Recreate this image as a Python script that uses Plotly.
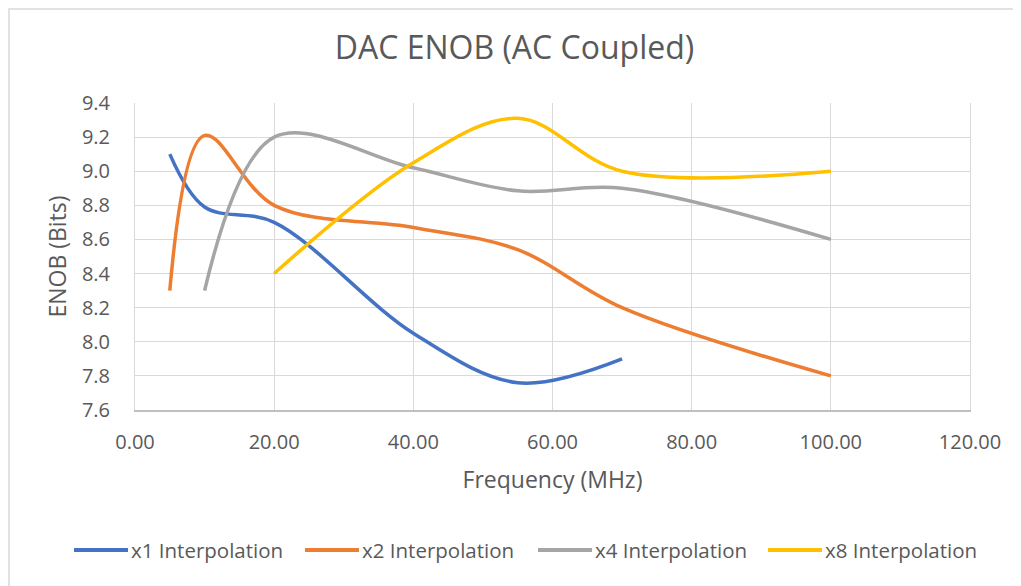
import plotly.graph_objects as go

# Data (frequency in MHz, ENOB in bits)
freq_x1 = [5, 10, 20, 40, 55, 70]
enob_x1 = [9.10, 8.79, 8.70, 8.05, 7.76, 7.90]

freq_x2 = [5, 10, 20, 40, 55, 70, 100]
enob_x2 = [8.30, 9.21, 8.80, 8.67, 8.54, 8.20, 7.80]

freq_x4 = [10, 20, 40, 55, 70, 100]
enob_x4 = [8.30, 9.20, 9.02, 8.885, 8.90, 8.60]

freq_x8 = [20, 40, 55, 70, 100]
enob_x8 = [8.40, 9.05, 9.31, 9.00, 9.00]

series_names = ["x1 Interpolation", "x2 Interpolation", "x4 Interpolation", "x8 Interpolation"]
series_colors = ["#4472C4", "#ED7D31", "#A5A5A5", "#FFC000"]

x_ticks = [0, 20, 40, 60, 80, 100, 120]
y_ticks = [7.6, 7.8, 8.0, 8.2, 8.4, 8.6, 8.8, 9.0, 9.2, 9.4]

FONT = "Open Sans"
TXT = "#595959"

fig = go.Figure()
for xs, ys, name, col in zip(
    [freq_x1, freq_x2, freq_x4, freq_x8],
    [enob_x1, enob_x2, enob_x4, enob_x8],
    series_names, series_colors):
    fig.add_trace(go.Scatter(
        x=xs, y=ys, mode="lines", name=name,
        line=dict(color=col, width=3.5, shape="spline", smoothing=1.0),
    ))

# The page body has an 8px margin; target positions are in window pixels.
OFF = 8
W, H = 1021 - OFF, 586 - OFF
L, R, T, B = 135 - OFF, 970 - OFF, 103 - OFF, 410 - OFF
pw, ph = R - L, B - T

def px_x(p):
    return (p - OFF - L) / pw

def px_y(p):
    return (B - (p - OFF)) / ph

fig.update_layout(
    width=W, height=H,
    margin=dict(l=L, r=W - R, t=T, b=H - B, autoexpand=False),
    paper_bgcolor="white", plot_bgcolor="white",
    font=dict(family=FONT, color=TXT),
    title=dict(text="DAC ENOB (AC Coupled)", x=0.5, xanchor="center",
               y=1 - (48 - OFF) / H, yref="container", yanchor="middle",
               font=dict(size=32, color=TXT, family=FONT)),
    showlegend=False,
    xaxis=dict(range=[0, 120], tickvals=x_ticks, tickformat=".2f",
               showgrid=True, gridcolor="#D9D9D9", gridwidth=1,
               zeroline=False, showline=True, linecolor="#BFBFBF", linewidth=1.5,
               ticks="", ticklabelstandoff=13,
               tickfont=dict(size=20, color=TXT, family=FONT),
               title=dict(text="Frequency (MHz)", standoff=18,
                          font=dict(size=23, color=TXT, family=FONT))),
    yaxis=dict(range=[7.6, 9.4], tickvals=y_ticks, tickformat=".1f",
               showgrid=True, gridcolor="#D9D9D9", gridwidth=1,
               zeroline=False, showline=True, mirror=True, linecolor="#D9D9D9", linewidth=1,
               ticks="", ticklabelstandoff=20,
               tickfont=dict(size=20, color=TXT, family=FONT),
               title=dict(text="ENOB (Bits)", standoff=8,
                          font=dict(size=23, color=TXT, family=FONT))),
)

# outer chart-area border
fig.add_shape(type="rect", xref="paper", yref="paper",
              x0=px_x(9), x1=px_x(1019), y0=px_y(600), y1=px_y(9),
              line=dict(color="#D9D9D9", width=1.5), fillcolor="rgba(0,0,0,0)",
              layer="above")

# legend drawn below the chart (Excel-style long line keys)
legend_starts = [74, 305, 538, 768]
LEG_Y = 550
for x0, name, col in zip(legend_starts, series_names, series_colors):
    fig.add_shape(type="line", xref="paper", yref="paper",
                  x0=px_x(x0), x1=px_x(x0 + 54), y0=px_y(LEG_Y), y1=px_y(LEG_Y),
                  line=dict(color=col, width=4))
    fig.add_annotation(xref="paper", yref="paper", x=px_x(x0 + 55), y=px_y(LEG_Y),
                       text=name, showarrow=False, xanchor="left", yanchor="middle",
                       font=dict(size=20.5, color=TXT, family=FONT))

fig.write_html("out.html")
